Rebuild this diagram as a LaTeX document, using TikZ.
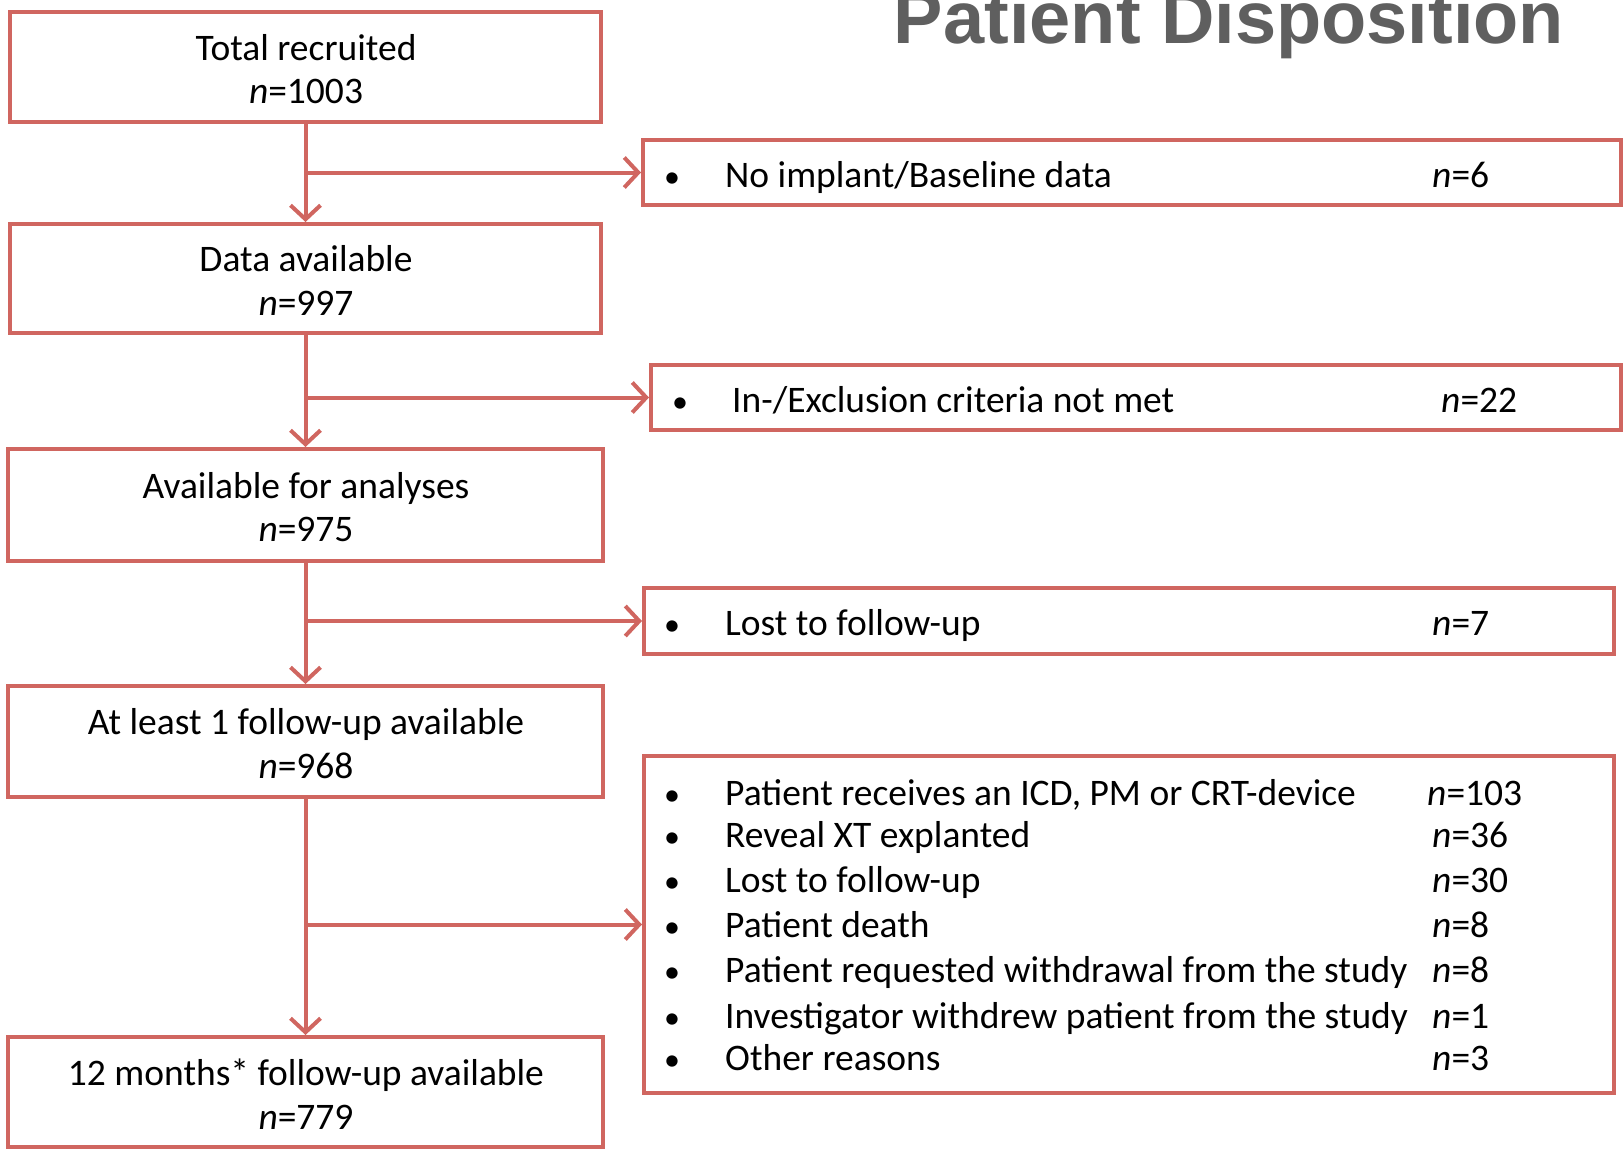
\documentclass[tikz,border=0pt]{standalone}
\usepackage{fontspec}
\setmainfont{Carlito}
\newfontfamily\titlefont{Liberation Sans}[BoldFont={* Bold}]
\usetikzlibrary{arrows.meta}
\definecolor{boxred}{RGB}{208,102,96}
\definecolor{titlegray}{RGB}{95,95,95}
\tikzset{
  mainbox/.style={draw=boxred, line width=4pt, fill=white, inner sep=0pt},
  mtxt/.style={align=center, inner sep=0pt, font=\fontsize{37.5}{43.5}\selectfont},
  sidebox/.style={draw=boxred, line width=4pt, inner sep=0pt},
  txt/.style={anchor=base west, inner sep=0pt, font=\fontsize{37.5}{43.5}\selectfont},
  bul/.style={anchor=base west, inner sep=0pt, font=\fontsize{32}{43.5}\selectfont},
  arr/.style={draw=boxred, line width=4pt, -{Straight Barb[length=14pt, width=30pt, line width=4pt]}},
}
\begin{document}
\begin{tikzpicture}[x=1pt,y=-1pt]
\useasboundingbox (0,0) rectangle (1624,1152);
% title
\node[anchor=base, inner sep=0pt, text=titlegray, font=\titlefont\bfseries\fontsize{74}{80}\selectfont] (title) at (1229,43.5) {Patient Disposition};
% main boxes
\node[mainbox, minimum width=591, minimum height=110] (m1) at (305.5,67) {};
\node[mainbox, minimum width=591, minimum height=109] (m2) at (305.5,278.5) {};
\node[mainbox, minimum width=595, minimum height=112] (m3) at (305.5,505) {};
\node[mainbox, minimum width=595, minimum height=111] (m4) at (305.5,741.5) {};
\node[mainbox, minimum width=595, minimum height=110] (m5) at (305.5,1092) {};
\node[mtxt] (m1t) at (306,69) {Total recruited\\\textit{n}=1003};
\node[mtxt] (m2t) at (306,280.5) {Data available\\\textit{n}=997};
\node[mtxt] (m3t) at (306,507) {Available for analyses\\\textit{n}=975};
\node[mtxt] (m4t) at (306,743.5) {At least 1 follow-up available\\\textit{n}=968};
\node[mtxt] (m5t) at (306,1094) {12 months* follow-up available\\\textit{n}=779};
% side boxes
\node[sidebox, minimum width=978, minimum height=65] (s1) at (1132,172.5) {};
\node[sidebox, minimum width=970, minimum height=65] (s2) at (1136,397.5) {};
\node[sidebox, minimum width=970, minimum height=66] (s3) at (1129,621) {};
\node[sidebox, minimum width=970, minimum height=337] (s4) at (1129,924.5) {};
% side box texts
\node[bul] (s1b) at (664,187) {•};
\node[txt] (s1t) at (725,187) {No implant/Baseline data};
\node[txt] (s1n) at (1432,187) {\textit{n}=6};
\node[bul] (s2b) at (672,412) {•};
\node[txt] (s2t) at (732,412) {In-/Exclusion criteria not met};
\node[txt] (s2n) at (1441,412) {\textit{n}=22};
\node[bul] (s3b) at (664,635) {•};
\node[txt] (s3t) at (725,635) {Lost to follow-up};
\node[txt] (s3n) at (1432,635) {\textit{n}=7};
\foreach \y/\t/\n/\nx [count=\i] in {
  805/{Patient receives an ICD, PM or CRT-device}/103/1427,
  847/{Reveal XT explanted}/36/1432,
  892/{Lost to follow-up}/30/1432,
  937/{Patient death}/8/1432,
  982/{Patient requested withdrawal from the study}/8/1432,
  1028/{Investigator withdrew patient from the study}/1/1432,
  1070/{Other reasons}/3/1432}{
  \node[bul] (s4b\i) at (664,\y) {•};
  \node[txt] (s4t\i) at (725,\y) {\t};
  \node[txt] (s4n\i) at (\nx,\y) {\textit{n}=\n};
}
% connectors
\draw[arr] (m1.south) -- (m2.north);
\draw[arr] (m2.south) -- (m3.north);
\draw[arr] (m3.south) -- (m4.north);
\draw[arr] (m4.south) -- (m5.north);
\coordinate (j1) at (m1.south |- s1.west);
\coordinate (j2) at (m2.south |- s2.west);
\coordinate (j3) at (m3.south |- s3.west);
\coordinate (j4) at (m4.south |- s4.west);
\draw[arr] (j1) -- (s1.west);
\draw[arr] (j2) -- (s2.west);
\draw[arr] (j3) -- (s3.west);
\draw[arr] (j4) -- (s4.west);
\end{tikzpicture}
\end{document}
